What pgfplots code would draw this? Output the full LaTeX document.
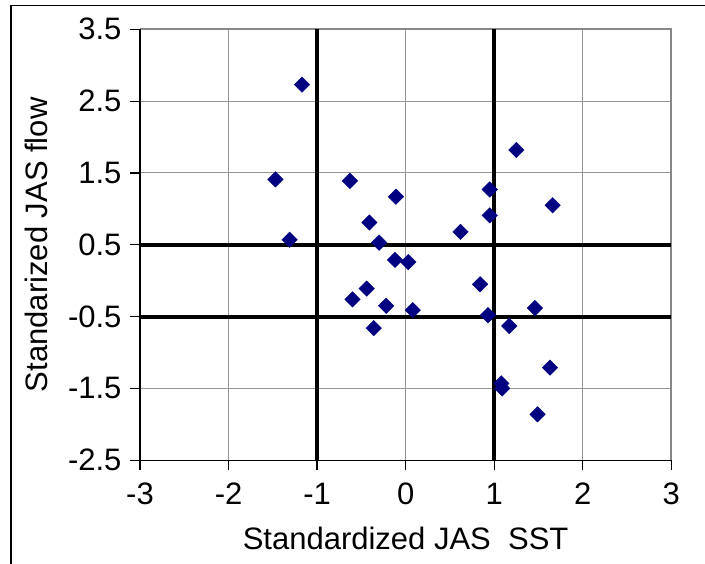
\documentclass[border=0pt]{standalone}
\usepackage{fontspec}
\setmainfont{Liberation Sans}
\usepackage{pgfplots}
\pgfplotsset{compat=1.18}
\definecolor{ptnavy}{RGB}{0,0,128}
\definecolor{gridgray}{RGB}{150,150,150}
\definecolor{edgegray}{RGB}{136,136,136}

\begin{document}
\begin{tikzpicture}
\useasboundingbox (-140pt,-103.7pt) rectangle (565pt,460.3pt);
% outer chart frame (left and top only are visible)
\draw[line width=1.2pt] (-129pt,-120pt) -- (-129pt,455pt) -- (570pt,455pt);
\begin{axis}[
    at={(0,0)}, anchor=south west,
    scale only axis, width=531.3pt, height=431pt,
    xmin=-3, xmax=3, ymin=-2.5, ymax=3.5,
    xtick={-3,-2,-1,0,1,2,3},
    xticklabels={-3,-2,-1,0,1,2,3},
    ytick={-2.5,-1.5,-0.5,0.5,1.5,2.5,3.5},
    yticklabels={-2.5,-1.5,-0.5,0.5,1.5,2.5,3.5},
    tick align=outside, xtick pos=bottom, ytick pos=left,
    major tick length=10pt,
    tick style={black, line width=1.2pt},
    grid=major, major grid style={gridgray, line width=1pt},
    axis line style={draw=none},
    font=\fontsize{31}{36}\selectfont,
    xticklabel style={yshift=-9pt},
    yticklabel style={xshift=-5pt},
    xlabel={Standardized JAS\ \ SST},
    ylabel={Standarized JAS flow},
    xlabel style={at={(axis description cs:0.5,-0.208)}, anchor=base},
    ylabel style={at={(axis description cs:-0.175,0.5)}, anchor=base},
    clip=false,
]
% plot area edges
\draw[edgegray, line width=2pt] (rel axis cs:0,1) -- (rel axis cs:1,1) -- (rel axis cs:1,0);
\draw[black, line width=1.3pt] (rel axis cs:0,1) -- (rel axis cs:0,0) -- (rel axis cs:1,0);
% quadrant lines
\addplot[black, line width=4pt, forget plot] coordinates {(-1,-2.5) (-1,3.5)};
\addplot[black, line width=4pt, forget plot] coordinates {(1,-2.5) (1,3.5)};
\addplot[black, line width=4pt, forget plot] coordinates {(-3,0.5) (3,0.5)};
\addplot[black, line width=4pt, forget plot] coordinates {(-3,-0.5) (3,-0.5)};
% data
\addplot[only marks, mark=square*, mark size=5.5pt,
    mark options={rotate=45, fill=ptnavy, draw=ptnavy, line width=0.4pt}]
coordinates {
(-1.17,2.73) (-1.47,1.41) (-1.31,0.57) (-0.63,1.39) (-0.11,1.17)
(-0.41,0.81) (-0.30,0.53) (-0.12,0.29) (0.03,0.26) (-0.44,-0.11)
(-0.60,-0.26) (-0.22,-0.35) (0.08,-0.41) (-0.36,-0.66)
(1.25,1.82) (0.95,1.27) (1.66,1.05) (0.95,0.91) (0.62,0.68)
(0.84,-0.05) (0.93,-0.48) (1.46,-0.38) (1.17,-0.63) (1.63,-1.21)
(1.08,-1.43) (1.09,-1.50) (1.49,-1.86)
};
\end{axis}
\end{tikzpicture}
\end{document}
